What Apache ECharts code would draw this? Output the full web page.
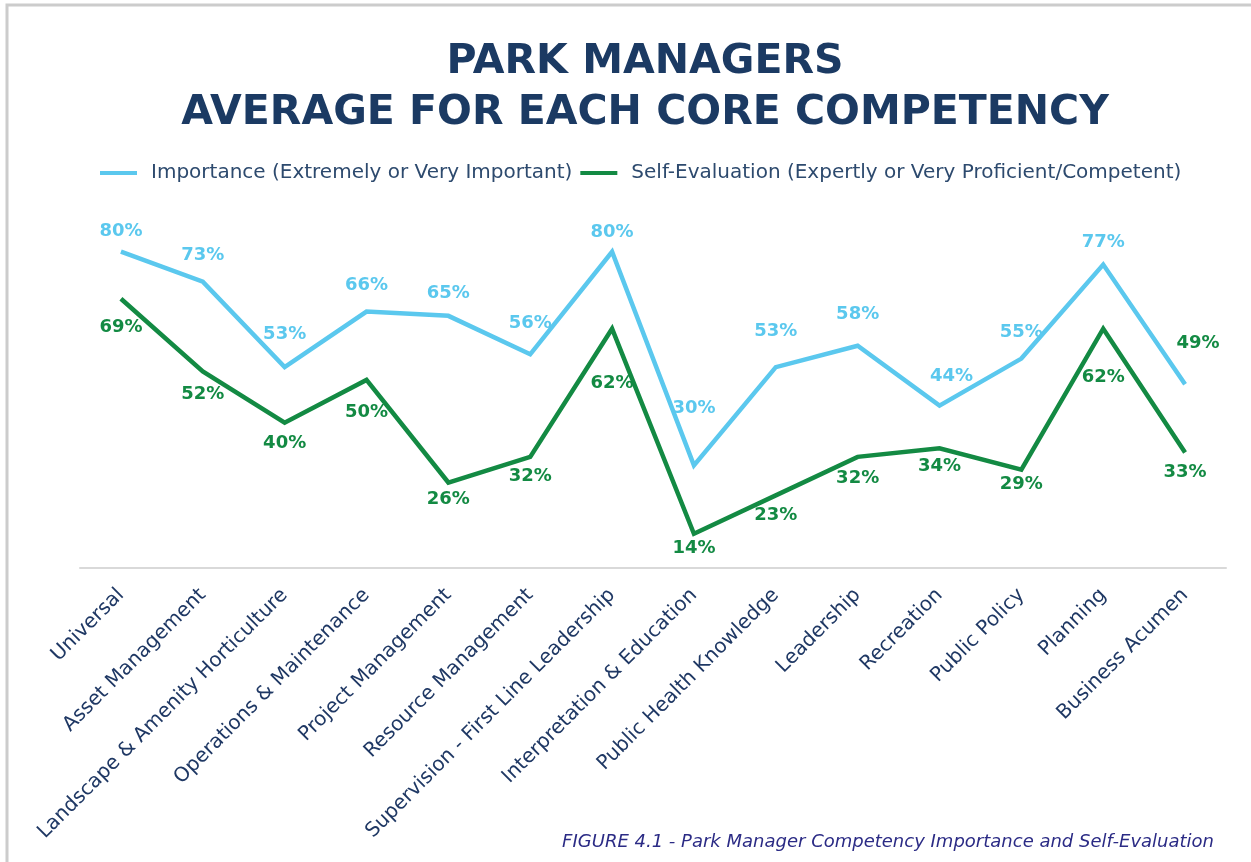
<!DOCTYPE html>
<html>
<head>
<meta charset="utf-8">
<script src="https://cdn.jsdelivr.net/npm/echarts@6/dist/echarts.min.js"></script>
<style>
html,body{margin:0;padding:0;background:#fff;}
#chart{width:1251px;height:862px;}
</style>
</head>
<body>
<div id="chart"></div>
<script>
const categories = ["Universal","Asset Management","Landscape & Amenity Horticulture","Operations & Maintenance","Project Management","Resource Management","Supervision - First Line Leadership","Interpretation & Education","Public Health Knowledge","Leadership","Recreation","Public Policy","Planning","Business Acumen"];
const importance = [80,73,53,66,65,56,80,30,53,58,44,55,77,49];
const selfEvaluation = [69,52,40,50,26,32,62,14,23,32,34,29,62,33];
const seriesNames = ["Importance (Extremely or Very Important)","Self-Evaluation (Expertly or Very Proficient/Competent)"];

// label placement styling (distance from point), not data
const impLabelDist = [11,17,24,17,14,22,10,48,27,22,20,17,13,32];
const selfLabelDist = [20,14,12,23,8,10,46,6,11,12,9,6,40,11];

const BLUE = '#5BC8EE', GREEN = '#138A43', NAVY = '#1B3A63', TXT = '#2D4A6E';

const chart = echarts.init(document.getElementById('chart'));
const impData = importance.map((v,i)=>{
  const lab = {distance: impLabelDist[i]};
  if (i === 10) lab.offset = [12,0];
  if (i === 13) { lab.offset = [13,0]; lab.color = GREEN; }
  return {value:v, label:lab};
});
const selfData = selfEvaluation.map((v,i)=>({value:v, label:{distance: selfLabelDist[i]}}));

chart.setOption({
  animation:false,
  backgroundColor:'#fff',
  title:{
    text:'PARK MANAGERS\nAVERAGE FOR EACH CORE COMPETENCY',
    left:640, textAlign:'center', top:32,
    textStyle:{fontFamily:'DejaVu Sans', fontWeight:'bold', fontSize:41, lineHeight:51, color:NAVY}
  },
  legend:{
    left:95, top:158, itemWidth:37, itemHeight:4, itemGap:8, icon:'rect',
    textStyle:{fontFamily:'DejaVu Sans', fontSize:20, color:TXT, padding:[0,0,0,9]},
    data:seriesNames
  },
  grid:{left:80, right:25, top:209, bottom:294, containLabel:false},
  xAxis:{
    type:'category', data:categories, boundaryGap:true,
    axisLine:{lineStyle:{color:'#D9D9D9', width:2}},
    axisTick:{show:false},
    axisLabel:{rotate:45, interval:0, margin:24, fontFamily:'DejaVu Sans', fontSize:20, color:'#1F3864'}
  },
  yAxis:{type:'value', min:6, max:90, show:false, splitLine:{show:false}},
  series:[
    {name:seriesNames[0], type:'line', data:impData, showSymbol:true, symbol:'circle', symbolSize:0,
     lineStyle:{color:BLUE, width:4.5, join:'miter', miterLimit:10}, itemStyle:{color:BLUE},
     label:{show:true, position:'top', formatter:'{c}%', fontFamily:'DejaVu Sans', fontWeight:'bold', fontSize:18, color:BLUE}},
    {name:seriesNames[1], type:'line', data:selfData, showSymbol:true, symbol:'circle', symbolSize:0,
     lineStyle:{color:GREEN, width:4.5, join:'miter', miterLimit:10}, itemStyle:{color:GREEN},
     label:{show:true, position:'bottom', formatter:'{c}%', fontFamily:'DejaVu Sans', fontWeight:'bold', fontSize:18, color:GREEN}}
  ],
  graphic:[
    {type:'rect', shape:{x:7, y:5, width:1300, height:900}, style:{fill:null, stroke:'#CCCCCC', lineWidth:3}, silent:true, z:-1},
    {type:'text', right:37, top:833, style:{text:'FIGURE 4.1 - Park Manager Competency Importance and Self-Evaluation', fontFamily:'DejaVu Sans', fontStyle:'italic', fontSize:18, fill:'#2B2B85'}}
  ]
});
</script>
</body>
</html>
